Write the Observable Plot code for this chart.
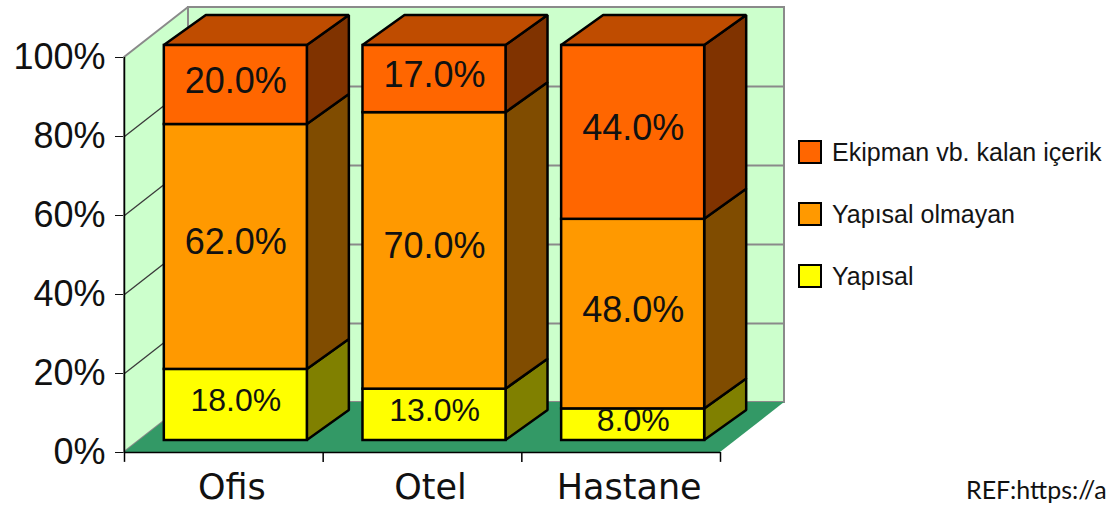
<!DOCTYPE html>
<html>
<head>
<meta charset="utf-8">
<script src="https://cdn.jsdelivr.net/npm/d3@7"></script>
<script src="https://cdn.jsdelivr.net/npm/@observablehq/plot@0.6"></script>
<style>
  html, body { margin: 0; padding: 0; background: #fff; overflow: hidden; }
  #wrap { position: relative; width: 1110px; height: 507px; overflow: hidden; }
  #legend { position: absolute; left: 798px; top: 140px; font-family: "Liberation Sans", Arial, sans-serif; font-size: 25px; color: #141414; }
  .row { display: flex; align-items: center; height: 24px; margin-bottom: 38px; white-space: nowrap; }
  .sw { width: 20px; height: 20px; border: 2px solid #000; margin-right: 10px; box-sizing: content-box; }
  #ref { position: absolute; left: 966px; top: 474px; font-family: Lato, "Open Sans", sans-serif; font-size: 25px; color: #111; white-space: nowrap; }
</style>
</head>
<body>
<div id="wrap"><div id="chart"></div><div id="legend"></div><div id="ref">REF:https://a</div></div>
<script>
// ---- data ----
const categories = ["Ofis", "Otel", "Hastane"];
const seriesNames = ["Yapısal", "Yapısal olmayan", "Ekipman vb. kalan içerik"];
const yapisal = [18, 13, 8];
const yapisalOlmayan = [62, 70, 48];
const ekipman = [20, 17, 44];
const frontColors = ["#FFFF00", "#FF9900", "#FF6600"];
const sideColors = ["#808000", "#804C00", "#803300"];
const topColor = "#BF4C00";
const legendOrder = [2, 1, 0];

// ---- geometry (in data units: 1 x unit = one category band, y in %) ----
const PX_X = (720 - 124) / 3;      // pixels per x unit
const PX_Y = (452 - 57) / 100;     // pixels per %
const WALL_DX = 64 / PX_X, WALL_DY = 50 / PX_Y;   // depth of the box
const FRONT_DX = 12 / PX_X, FRONT_DY = 12 / PX_Y; // bar front plane offset
const BAR_DX = 42 / PX_X, BAR_DY = 30 / PX_Y;     // bar depth
const PAD = 0.14;

const values = [yapisal, yapisalOlmayan, ekipman];
const fronts = [], sides = [], tops = [], labels = [];
categories.forEach((cat, i) => {
  let acc = 0;
  const xl = i + PAD + FRONT_DX, xr = i + 1 - PAD + FRONT_DX;
  values.forEach((arr, s) => {
    const v = arr[i];
    const y0 = acc + FRONT_DY, y1 = acc + v + FRONT_DY;
    fronts.push({x1: xl, x2: xr, y1: y0, y2: y1, fill: frontColors[s]});
    const key = cat + s;
    sides.push({key, x: xr, y1: y0, y2: y1, fill: sideColors[s]});
    sides.push({key, x: xr + BAR_DX, y1: y0 + BAR_DY, y2: y1 + BAR_DY, fill: sideColors[s]});
    labels.push({x: (xl + xr) / 2, y: (y0 + y1) / 2, text: v.toFixed(1) + "%", s});
    acc += v;
  });
  const yt = acc + FRONT_DY;
  tops.push({key: cat, y: yt, x1: xl, x2: xr, fill: topColor});
  tops.push({key: cat, y: yt + BAR_DY, x1: xl + BAR_DX, x2: xr + BAR_DX, fill: topColor});
});

const gridVals = [20, 40, 60, 80, 100];
const sideWall = [{x: 0, y1: 0, y2: 100}, {x: WALL_DX, y1: WALL_DY, y2: 100 + WALL_DY}];
const floor = [{y: 0, x1: 0, x2: 3}, {y: WALL_DY, x1: WALL_DX, x2: 3 + WALL_DX}];

const chart = Plot.plot({
  width: 1110,
  height: 507,
  marginLeft: 124,
  marginRight: 390,
  marginTop: 57,
  marginBottom: 55,
  style: {fontFamily: "'Liberation Sans', Arial, sans-serif", fontSize: "36px", color: "#111", background: "transparent"},
  x: {domain: [0, 3], axis: null},
  y: {domain: [0, 100], ticks: 5, tickFormat: d => d + "%", tickSize: 9, tickPadding: 10, label: null},
  color: {type: "identity"},
  marks: [
    // back wall
    Plot.rect([0], {x1: () => WALL_DX, x2: () => 3 + WALL_DX, y1: () => WALL_DY, y2: () => 100 + WALL_DY, fill: "#CCFFCC", stroke: "#8a8a8a", strokeWidth: 2}),
    // side wall
    Plot.areaY(sideWall, {x: "x", y1: "y1", y2: "y2", fill: "#CCFFCC", stroke: "#8a8a8a", strokeWidth: 2}),
    // back wall gridlines
    Plot.ruleY(gridVals.slice(0, 4), {y: d => d + WALL_DY, x1: () => WALL_DX, x2: () => 3 + WALL_DX, stroke: "#8a8a8a", strokeWidth: 2}),
    // side wall gridlines
    Plot.link(gridVals.slice(0, 4), {x1: () => 0, y1: d => d, x2: () => WALL_DX, y2: d => d + WALL_DY, stroke: "#3a3a3a", strokeWidth: 1.3}),
    // floor
    Plot.areaX(floor, {y: "y", x1: "x1", x2: "x2", fill: "#339966"}),
    // axes lines
    Plot.ruleX([0], {y1: 0, y2: 100, stroke: "#000", strokeWidth: 1.5}),
    Plot.ruleY([0], {x1: 0, x2: 3, stroke: "#000", strokeWidth: 1.5}),
    Plot.ruleX([0, 1, 2, 3], {x: d => d, y1: 0, y2: -2.5, stroke: "#000", strokeWidth: 1.5}),
    // bars: side faces, top faces, front faces
    Plot.areaY(sides, {x: "x", y1: "y1", y2: "y2", z: "key", fill: "fill", stroke: "#000", strokeWidth: 2.5, strokeLinejoin: "miter"}),
    Plot.areaX(tops, {y: "y", x1: "x1", x2: "x2", z: "key", fill: "fill", stroke: "#000", strokeWidth: 2.5, strokeLinejoin: "miter"}),
    Plot.rect(fronts, {x1: "x1", x2: "x2", y1: "y1", y2: "y2", fill: "fill", stroke: "#000", strokeWidth: 2.5}),
    // value labels
    Plot.text(labels, {x: "x", y: "y", text: "text", dy: -4, fill: "#111", fontSize: d => d.s === 0 ? 32 : 36, fontFamily: "'Liberation Sans', Arial, sans-serif"}),
    // category labels
    Plot.text(categories, {x: (d, i) => i + 0.5, y: () => 0, text: d => d, dy: 35, dx: 8, fill: "#111", fontSize: 35, fontFamily: "'DejaVu Sans', Verdana, sans-serif"})
  ]
});
document.getElementById("chart").appendChild(chart);

// legend
const legend = document.getElementById("legend");
legendOrder.forEach(s => {
  const row = document.createElement("div");
  row.className = "row";
  const sw = document.createElement("div");
  sw.className = "sw";
  sw.style.background = frontColors[s];
  const t = document.createElement("span");
  t.textContent = seriesNames[s];
  row.appendChild(sw);
  row.appendChild(t);
  legend.appendChild(row);
});
</script>
</body>
</html>
